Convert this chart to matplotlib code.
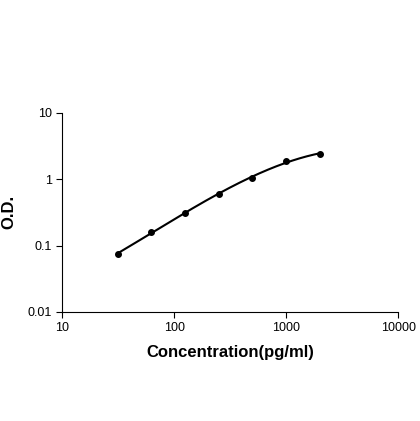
import numpy as np
import matplotlib
matplotlib.use("Agg")
import matplotlib.pyplot as plt
from matplotlib.ticker import FixedLocator, FixedFormatter, NullLocator

conc = [31.25, 62.5, 125, 250, 500, 1000, 2000]
od = [0.075, 0.16, 0.31, 0.60, 1.05, 1.90, 2.40]
xticks = [10, 100, 1000, 10000]
xlabels = ["10", "100", "1000", "10000"]
yticks = [0.01, 0.1, 1, 10]
ylabels = ["0.01", "0.1", "1", "10"]

plt.rcParams['font.family'] = ['Liberation Sans', 'DejaVu Sans']
fig = plt.figure(figsize=(4.2, 4.21), dpi=100)
ax = fig.add_axes([0.148, 0.259, 0.8, 0.473])
ax.set_xscale('log'); ax.set_yscale('log')
ax.set_xlim(10, 10000); ax.set_ylim(0.01, 10)

# smooth fitted curve in log space
lx = np.log10(conc); ly = np.log10(od)
coef = np.polyfit(lx, ly, 3)
xs = np.linspace(lx[0], lx[-1], 200)
ax.plot(10**xs, 10**np.polyval(coef, xs), color='black', lw=1.5)
ax.plot(conc, od, 'o', color='black', ms=4)

for s in ['top', 'right']:
    ax.spines[s].set_visible(False)
ax.xaxis.set_major_locator(FixedLocator(xticks))
ax.xaxis.set_major_formatter(FixedFormatter(xlabels))
ax.yaxis.set_major_locator(FixedLocator(yticks))
ax.yaxis.set_major_formatter(FixedFormatter(ylabels))
ax.xaxis.set_minor_locator(NullLocator()); ax.yaxis.set_minor_locator(NullLocator())
ax.tick_params(labelsize=9, direction='out', length=4)
ax.set_xlabel("Concentration(pg/ml)", fontsize=12, fontweight='bold', labelpad=8)
ax.set_ylabel("O.D.", fontsize=12, fontweight='bold', labelpad=8)
fig.savefig("out.png", dpi=100)
